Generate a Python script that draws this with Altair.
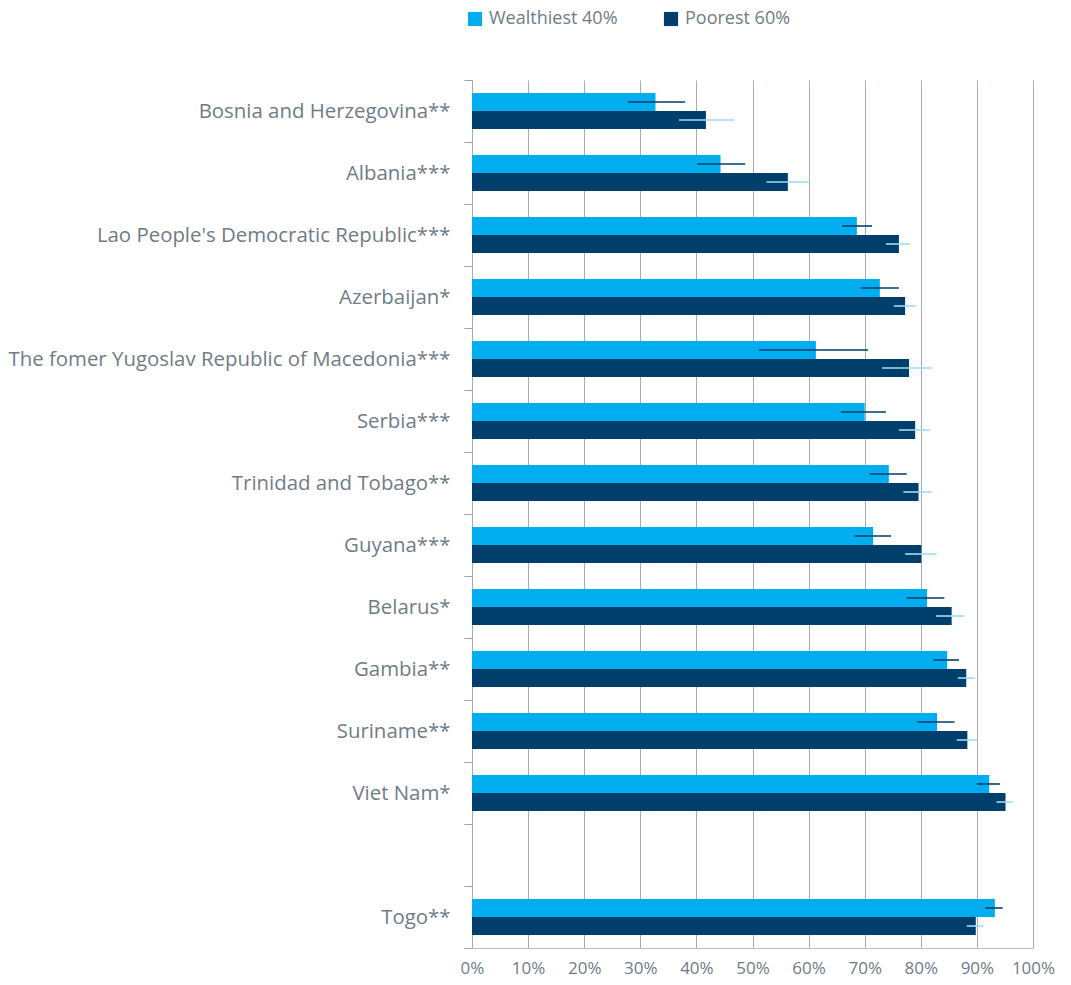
import altair as alt
import pandas as pd

countries = [
    "Bosnia and Herzegovina**",
    "Albania***",
    "Lao People's Democratic Republic***",
    "Azerbaijan*",
    "The fomer Yugoslav Republic of Macedonia***",
    "Serbia***",
    "Trinidad and Tobago**",
    "Guyana***",
    "Belarus*",
    "Gambia**",
    "Suriname**",
    "Viet Nam*",
    " ",
    "Togo**",
]
data_countries = [c for c in countries if c.strip()]

wealthiest = [32.7, 44.3, 68.6, 72.7, 61.3, 70.0, 74.3, 71.5, 81.1, 84.7, 82.9, 92.2, 93.2]
wealthiest_lo = [27.8, 40.1, 66.0, 69.3, 51.2, 65.8, 70.9, 68.2, 77.5, 82.3, 79.4, 90.0, 91.5]
wealthiest_hi = [38.0, 48.7, 71.3, 76.1, 70.6, 73.8, 77.5, 74.7, 84.2, 86.8, 86.0, 94.1, 94.6]

poorest = [41.7, 56.3, 76.1, 77.2, 77.9, 79.0, 79.6, 80.1, 85.5, 88.1, 88.3, 95.1, 89.8]
poorest_lo = [36.9, 52.5, 73.8, 75.2, 73.1, 76.1, 76.9, 77.2, 82.7, 86.6, 86.4, 93.5, 88.2]
poorest_hi = [46.7, 60.0, 78.1, 79.1, 82.0, 81.6, 81.9, 82.8, 87.8, 89.6, 90.0, 96.4, 91.1]

groups = ["Wealthiest 40%", "Poorest 60%"]
bar_colors = ["#00adef", "#003e6b"]
err_colors = ["#003e6b", "#9edcf6"]
x_ticks = [i / 10 for i in range(11)]

rows = []
for i, c in enumerate(data_countries):
    rows.append(dict(country=c, group=groups[0], value=wealthiest[i] / 100,
                     lo=wealthiest_lo[i] / 100, hi=wealthiest_hi[i] / 100, ecol=err_colors[0]))
    rows.append(dict(country=c, group=groups[1], value=poorest[i] / 100,
                     lo=poorest_lo[i] / 100, hi=poorest_hi[i] / 100, ecol=err_colors[1]))
df = pd.DataFrame(rows)

FONT = "Open Sans"
GRAY = "#6f7c88"

y_enc = alt.Y(
    "country:N",
    sort=countries,
    scale=alt.Scale(domain=countries, paddingInner=0, paddingOuter=0),
    axis=alt.Axis(
        title=None,
        labelFont=FONT,
        labelFontSize=20.4,
        labelColor=GRAY,
        labelPadding=14,
        tickBand="extent",
        tickColor="#9aa4ae",
        tickSize=8,
        domain=False,
        grid=False,
        labelLimit=0,
    ),
)
yoff = alt.YOffset(
    "group:N",
    sort=groups,
    scale=alt.Scale(domain=groups, paddingInner=0, paddingOuter=0.72),
)

x_enc = alt.X(
    "value:Q",
    scale=alt.Scale(domain=[0, 1], nice=False),
    axis=alt.Axis(
        title=None,
        format=".0%",
        values=x_ticks,
        labelOverlap=False,
        labelFlush=False,
        labelFont=FONT,
        labelFontSize=17,
        labelColor=GRAY,
        labelPadding=12,
        grid=True,
        gridColor="#a3acb5",
        gridWidth=1,
        ticks=False,
        domain=True,
        domainColor="#b8c0c8",
        domainWidth=1,
    ),
)

bars = alt.Chart(df).mark_bar(height={"band": 1}).encode(
    y=y_enc,
    yOffset=yoff,
    x=x_enc,
    color=alt.Color(
        "group:N",
        sort=groups,
        scale=alt.Scale(domain=groups, range=bar_colors),
        legend=alt.Legend(
            title=None,
            orient="none",
            direction="horizontal",
            legendX=-6,
            legendY=-70,
            symbolType="square",
            symbolSize=200,
            symbolStrokeWidth=0,
            labelFont=FONT,
            labelFontSize=18,
            labelColor=GRAY,
            labelLimit=0,
            columnPadding=44,
            labelOffset=5,
        ),
    ),
)

errs = alt.Chart(df).mark_rule(strokeWidth=1.6).encode(
    y=alt.Y("country:N", sort=countries),
    yOffset=yoff,
    x=alt.X("lo:Q"),
    x2="hi:Q",
    color=alt.Color("ecol:N", scale=None),
)

chart = (
    alt.layer(bars, errs)
    .properties(
        width=561,
        height=868,
        autosize=alt.AutoSizeParams(type="none"),
        padding={"left": 464, "top": 72, "right": 30, "bottom": 40},
    )
    .configure_view(stroke=None)
)

chart.save("out.html", embed_options={"renderer": "svg", "actions": False})
